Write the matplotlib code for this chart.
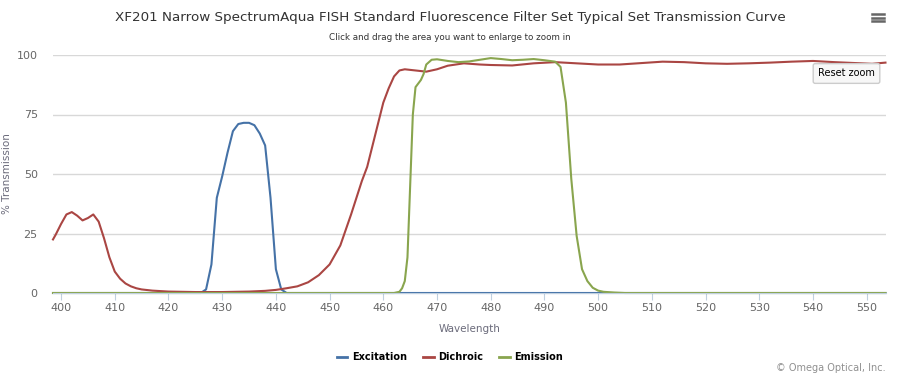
import matplotlib.pyplot as plt
from matplotlib.lines import Line2D

plt.rcParams['font.family'] = ['DejaVu Sans']

# Excitation filter
ex_wl = [398.5, 426, 427, 428, 429, 430, 431, 432, 433, 434, 435, 436, 437, 438, 439, 440, 441, 442, 553.5]
ex_t = [0, 0, 1.5, 12, 40, 49, 59, 68, 71, 71.5, 71.5, 70.5, 67, 62, 40, 10, 1.5, 0, 0]

# Dichroic mirror
di_wl = [398.5, 399, 400, 401, 402, 403, 404, 405, 406, 407, 408, 409, 410, 411, 412, 413, 414, 415,
         417, 420, 425, 430, 435, 438, 440, 442, 444, 446, 448, 450, 452, 454, 455, 456, 457, 458,
         459, 460, 461, 462, 463, 464, 466, 468, 470, 472, 475, 478, 480, 484, 488, 492, 496, 500,
         504, 508, 512, 516, 520, 524, 528, 532, 536, 540, 544, 548, 551, 553.5]
di_t = [22.5, 24.5, 29, 33, 34, 32.5, 30.5, 31.5, 33, 30, 23, 15, 9, 6, 4, 2.8, 2, 1.5,
        1, 0.6, 0.4, 0.4, 0.6, 0.9, 1.3, 2, 2.8, 4.5, 7.5, 12, 20, 33, 40, 47, 53, 62,
        71, 80, 86, 91, 93.5, 94, 93.5, 93, 94, 95.5, 96.5, 96, 95.8, 95.6, 96.5, 97, 96.5, 96,
        96, 96.6, 97.2, 97, 96.5, 96.3, 96.5, 96.8, 97.2, 97.5, 97, 96.6, 96.3, 96.8]

# Emission filter
em_wl = [398.5, 462, 463, 463.5, 464, 464.5, 465, 465.5, 466, 467, 467.5, 468, 469, 470, 472, 474,
         476, 478, 480, 482, 484, 486, 488, 490, 492, 493, 494, 495, 496, 497, 498, 499, 500, 501,
         503, 505, 553.5]
em_t = [0, 0, 0.5, 2, 5, 15, 45, 75, 86.5, 89.5, 92, 96, 98, 98.2, 97.5, 97, 97.3, 98, 98.7, 98.3,
        97.8, 98, 98.3, 97.8, 97.2, 95, 80, 48, 24, 10, 5, 2.2, 1, 0.5, 0.2, 0, 0]

names = ['Excitation', 'Dichroic', 'Emission']
colors = ['#4572A7', '#AA4643', '#89A54E']

fig = plt.figure(figsize=(9, 3.77), dpi=100)
ax = fig.add_axes([53 / 900, 84 / 377, 833 / 900, 238 / 377])

for wl, t, c in zip([ex_wl, di_wl, em_wl], [ex_t, di_t, em_t], colors):
    ax.plot(wl, t, color=c, lw=1.5, solid_joinstyle='round', clip_on=False)

ax.set_xlim(398.5, 553.6)
ax.set_ylim(0, 100)
ax.set_xticks(range(400, 551, 10))
ax.set_yticks([0, 25, 50, 75, 100])
ax.grid(axis='y', color='#D8D8D8', lw=1)
ax.set_axisbelow(True)
for s in ['top', 'right', 'left']:
    ax.spines[s].set_visible(False)
ax.spines['bottom'].set_color('#C0D0E0')
ax.tick_params(axis='x', colors='#C0D0E0', length=5, labelcolor='#666666', labelsize=8, pad=2)
ax.tick_params(axis='y', length=0, labelcolor='#666666', labelsize=8, pad=11)

ax.set_xlabel('Wavelength', color='#6b6b7b', fontsize=7.5)
ax.xaxis.set_label_coords(0.5, -31 / 238)
ax.set_ylabel('% Transmission', color='#6b6b7b', fontsize=7.5)
ax.yaxis.set_label_coords(-41 / 833, 0.5)

fig.text(0.5, 1 - 17 / 377, 'XF201 Narrow SpectrumAqua FISH Standard Fluorescence Filter Set Typical Set Transmission Curve',
         ha='center', va='center', fontsize=9.7, color='#333333')
fig.text(0.5, 1 - 38 / 377, 'Click and drag the area you want to enlarge to zoom in',
         ha='center', va='center', fontsize=6.3, color='#333333')
fig.text(886 / 900, 1 - 368 / 377, '\u00a9 Omega Optical, Inc.', ha='right', va='center',
         fontsize=7, color='#909090')

# menu icon
for yy in [14, 17.7, 21.3]:
    fig.add_artist(Line2D([872 / 900, 884 / 900], [1 - yy / 377] * 2, color='#666666', lw=1.8))

# reset zoom button
fig.text(846.5 / 900, 1 - 73.5 / 377, 'Reset zoom', ha='center', va='center', fontsize=7, color='#000000',
         bbox=dict(boxstyle='round,pad=0.5,rounding_size=0.2', fc='#f7f7f7', ec='#cccccc', lw=1))

handles = [Line2D([], [], color=c, lw=2) for c in colors]
fig.legend(handles, names, loc='center', bbox_to_anchor=(0.5, 1 - 357 / 377), ncol=3, frameon=False,
           handlelength=1.1, handletextpad=0.5, columnspacing=1.6,
           prop={'weight': 'bold', 'size': 7})

fig.savefig('out.png', dpi=100)
